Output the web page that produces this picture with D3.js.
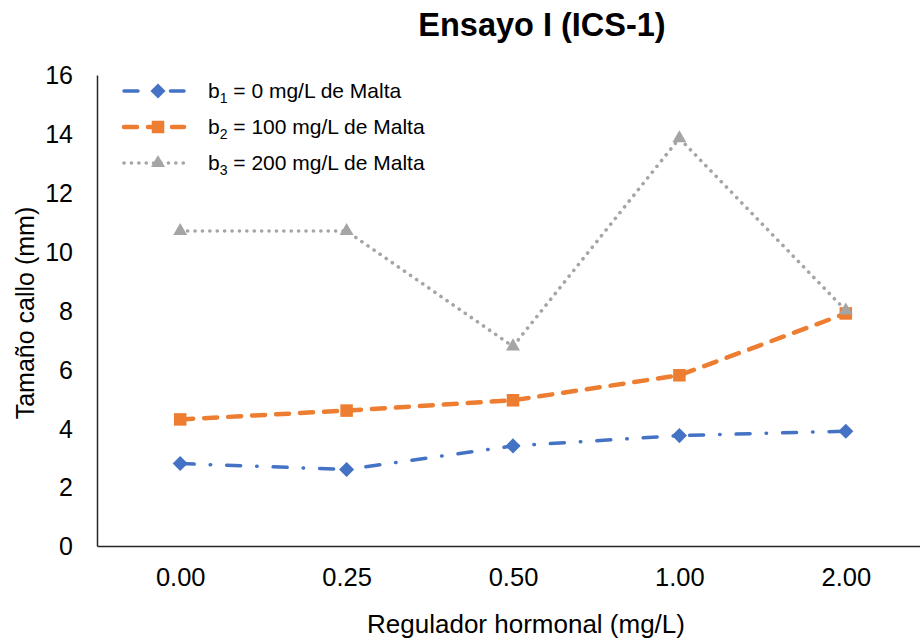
<!DOCTYPE html>
<html>
<head>
<meta charset="utf-8">
<script src="https://cdn.jsdelivr.net/npm/d3@7"></script>
<style>
  body { margin: 0; background: #fff; }
  text { font-family: "Liberation Sans", Arial, sans-serif; fill: #000; }
</style>
</head>
<body>
<div id="chart"></div>
<script>
// Chart data
const categories = ['0.00', '0.25', '0.50', '1.00', '2.00'];
const b1Values = [2.8, 2.6, 3.4, 3.75, 3.9];
const b2Values = [4.3, 4.6, 4.95, 5.8, 7.9];
const b3Values = [10.7, 10.7, 6.78, 13.85, 8.0];
const yTicks = [0, 2, 4, 6, 8, 10, 12, 14, 16];

const series = [
  { sub: '1', label: ' = 0 mg/L de Malta', values: b1Values, color: '#4472C4',
    dash: '14,16,0.5,16', width: 3.5, marker: d3.symbolDiamond2, size: 145 },
  { sub: '2', label: ' = 100 mg/L de Malta', values: b2Values, color: '#ED7D31',
    dash: '13,11', width: 4.5, marker: d3.symbolSquare2, size: 200 },
  { sub: '3', label: ' = 200 mg/L de Malta', values: b3Values, color: '#A5A5A5',
    dash: '0.1,7.3', width: 3.6, marker: d3.symbolTriangle2, size: 140 }
];

const width = 920, height = 643;
const plot = { left: 97, right: 929, top: 75, bottom: 546 };

const svg = d3.select('#chart').append('svg')
  .attr('width', width)
  .attr('height', height);

const x = d3.scalePoint()
  .domain(categories)
  .range([plot.left, plot.right])
  .padding(0.5);

const y = d3.scaleLinear()
  .domain([0, 16])
  .range([plot.bottom, plot.top]);

// Axes
const yAxis = svg.append('g')
  .attr('transform', `translate(${plot.left},0)`)
  .call(d3.axisLeft(y).tickValues(yTicks).tickSize(0).tickPadding(24));
yAxis.select('.domain').attr('stroke', '#262626').attr('stroke-width', 1.5);
yAxis.selectAll('text').style('font-size', '25px').attr('dy', '0.35em');

const xAxis = svg.append('g')
  .attr('transform', `translate(0,${plot.bottom})`)
  .call(d3.axisBottom(x).tickSize(0).tickPadding(22));
xAxis.select('.domain').attr('stroke', '#262626').attr('stroke-width', 1.5);
xAxis.selectAll('text').style('font-size', '25.5px');

// Titles
svg.append('text')
  .attr('x', 542).attr('y', 36)
  .attr('text-anchor', 'middle')
  .style('font-size', '32.5px').style('font-weight', 'bold')
  .text('Ensayo I (ICS-1)');

svg.append('text')
  .attr('x', 526).attr('y', 633)
  .attr('text-anchor', 'middle')
  .style('font-size', '26px')
  .text('Regulador hormonal (mg/L)');

svg.append('text')
  .attr('transform', 'translate(34,313) rotate(-90)')
  .attr('text-anchor', 'middle')
  .style('font-size', '25px')
  .text('Tamaño callo (mm)');

// Lines and markers
const line = d3.line()
  .x((d, i) => x(categories[i]))
  .y(d => y(d));

series.forEach(s => {
  svg.append('path')
    .datum(s.values)
    .attr('fill', 'none')
    .attr('stroke', s.color)
    .attr('stroke-width', s.width)
    .attr('stroke-dasharray', s.dash)
    .attr('stroke-linecap', 'round')
    .attr('d', line);
});

series.forEach(s => {
  svg.selectAll(null)
    .data(s.values)
    .enter().append('path')
    .attr('transform', (d, i) => `translate(${x(categories[i])},${y(d)})`)
    .attr('d', d3.symbol().type(s.marker).size(s.size))
    .attr('fill', s.color);
});

// Legend
const legend = svg.append('g');
series.forEach((s, i) => {
  const ly = 91 + i * 36;
  legend.append('line')
    .attr('x1', 124).attr('x2', 184)
    .attr('y1', ly).attr('y2', ly)
    .attr('stroke', s.color)
    .attr('stroke-width', s.width)
    .attr('stroke-dasharray', s.dash)
    .attr('stroke-linecap', 'round');
  legend.append('path')
    .attr('transform', `translate(158,${ly})`)
    .attr('d', d3.symbol().type(s.marker).size(s.size))
    .attr('fill', s.color);
  const t = legend.append('text')
    .attr('x', 208).attr('y', ly + 7)
    .style('font-size', '21px');
  t.append('tspan').text('b');
  t.append('tspan').attr('dy', 5).style('font-size', '14px').text(s.sub);
  t.append('tspan').attr('dy', -5).text(s.label);
});
</script>
</body>
</html>
